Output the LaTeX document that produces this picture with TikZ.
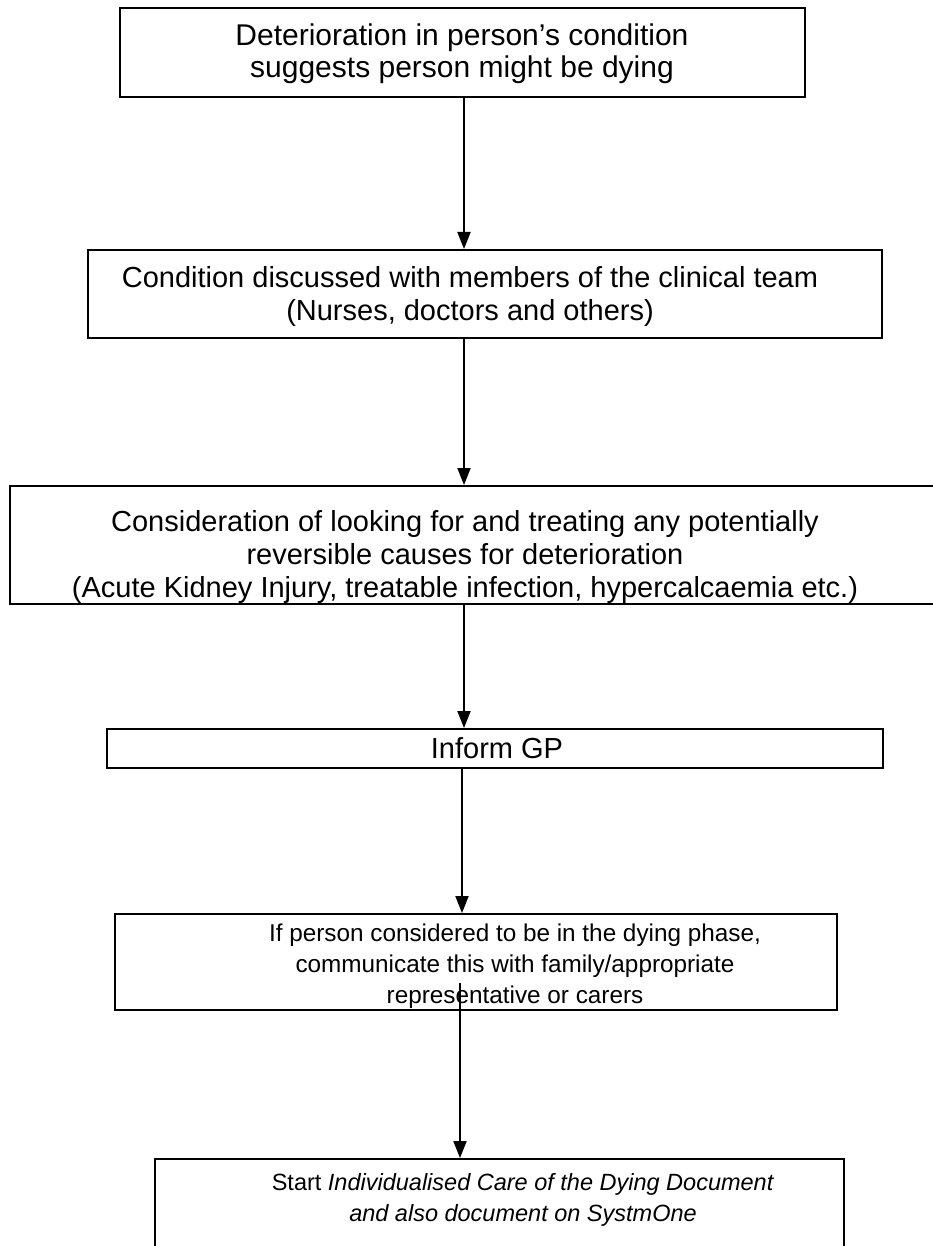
\documentclass[tikz,border=0pt]{standalone}
\usepackage{fontspec}
\setmainfont{Liberation Sans}
\usetikzlibrary{arrows.meta}
\tikzset{
  box/.style={draw=black, line width=2pt, rectangle, inner sep=0pt, fill=none},
  txt/.style={align=center, inner sep=0pt, font=\fontsize{23.5}{31}\selectfont},
  bigtxt/.style={align=center, inner sep=0pt, font=\fontsize{29}{33}\selectfont},
  arr/.style={draw=black, line width=2pt, -{Triangle[width=13pt,length=17pt]}}
}
\begin{document}
\begin{tikzpicture}[x=1pt,y=-1pt]
\useasboundingbox (0,0) rectangle (933,1246);
\clip (0,0) rectangle (933,1246);
\fill[white] (0,0) rectangle (933,1246);
\node[box, minimum width=685pt, minimum height=89pt] (b1) at (462.5,52.5) {};
\node[box, minimum width=794pt, minimum height=88pt] (b2) at (485,294) {};
\node[box, minimum width=950pt, minimum height=118pt] (b3) at (485,545) {};
\node[box, minimum width=776pt, minimum height=39pt] (b4) at (495,748.5) {};
\node[box, minimum width=722pt, minimum height=96pt] (b5) at (476,962) {};
\node[box, minimum width=689pt, minimum height=141pt] (b6) at (499.5,1229.5) {};
\node[bigtxt, font=\fontsize{30}{32}\selectfont] (t1) at (462,54) {Deterioration in person’s condition\\suggests person might be dying};
\node[bigtxt] (t2) at (470,296) {Condition discussed with members of the clinical team\\(Nurses, doctors and others)};
\node[bigtxt] (t3) at (465,557) {Consideration of looking for and treating any potentially\\reversible causes for deterioration\\(Acute Kidney Injury, treatable infection, hypercalcaemia etc.)};
\node[bigtxt] (t4) at (497,748.5) {Inform GP};
\node[txt, font=\fontsize{24.3}{31}\selectfont] (t5) at (515,966) {If person considered to be in the dying phase,\\communicate this with family/appropriate\\representative or carers};
\node[txt] (t6) at (523,1200) {Start \textit{Individualised Care of the Dying Document}\\\textit{and also document on SystmOne}};
\coordinate (ax) at (464,0);
\coordinate (a5s) at (460,983);
\draw[arr] (b1.south -| ax) -- (b2.north -| ax);
\draw[arr] (b2.south -| ax) -- (b3.north -| ax);
\draw[arr] (b3.south -| ax) -- (b4.north -| ax);
\draw[arr] (b4.south -| 462,0) -- (b5.north -| 462,0);
\draw[arr] (a5s) -- (b6.north -| a5s);
\end{tikzpicture}
\end{document}
